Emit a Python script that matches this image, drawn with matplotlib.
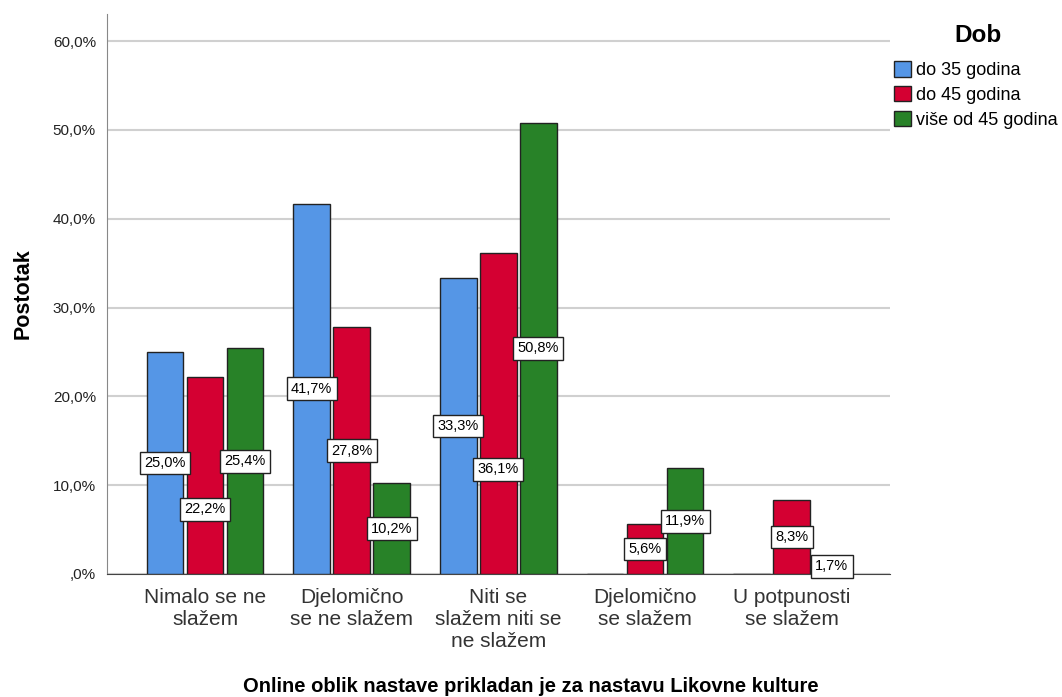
import matplotlib.pyplot as plt
import numpy as np

plt.rcParams['font.family'] = ['Liberation Sans', 'DejaVu Sans']

categories = ['Nimalo se ne\nslažem', 'Djelomično\nse ne slažem', 'Niti se\nslažem niti se\nne slažem',
              'Djelomično\nse slažem', 'U potpunosti\nse slažem']
groups = ['do 35 godina', 'do 45 godina', 'više od 45 godina']
do35 = [25.0, 41.7, 33.3, 0.0, 0.0]
do45 = [22.2, 27.8, 36.1, 5.6, 8.3]
vise45 = [25.4, 10.2, 50.8, 11.9, 1.7]
colors = ['#5596e6', '#d40032', '#288228']
yticks = [0, 10, 20, 30, 40, 50, 60]

# labels SPSS pushed down to avoid overlapping neighbours: (series, category) -> y
label_shift = {(1, 0): 7.3, (1, 2): 11.8}

fig = plt.figure(figsize=(10.62, 6.97), dpi=100)
ax = fig.add_axes([0.1008, 0.1765, 0.7372, 0.8035])

x = np.arange(len(categories))
width = 0.25
offset = 0.273
for i, (vals, col, name) in enumerate(zip([do35, do45, vise45], colors, groups)):
    xs = x + (i - 1) * offset
    ax.bar(xs, vals, width, color=col, edgecolor='#222222', linewidth=1, label=name, zorder=3)
    for j, (xi, v) in enumerate(zip(xs, vals)):
        if v > 0:
            ly = label_shift.get((i, j), v / 2)
            ax.text(xi, ly, f'{v:.1f}%'.replace('.', ','), ha='center', va='center', fontsize=10.5,
                    zorder=5, bbox=dict(boxstyle='square,pad=0.3', fc='white', ec='#222222', lw=1))

ax.set_xlim(-0.668, 4.67)
ax.set_ylim(0, 63.05)
ax.set_yticks(yticks)
ax.set_yticklabels([f'{t:.1f}%'.replace('.', ',') if t else ',0%' for t in yticks], fontsize=11, color='#222222')
ax.set_xticks(x)
ax.set_xticklabels(categories, fontsize=15, color='#333333', linespacing=1.22)
ax.tick_params(axis='y', length=0, pad=8)
ax.tick_params(axis='x', length=0, pad=10)
ax.yaxis.grid(True, color='#d0d0d0', linewidth=1.5, zorder=0)
for s in ['top', 'right']:
    ax.spines[s].set_visible(False)
ax.spines['left'].set_color('#888888')
ax.spines['bottom'].set_color('#444444')
ax.set_ylabel('Postotak', fontsize=15.5, fontweight='bold')
ax.yaxis.set_label_coords(-0.094, 0.5)
fig.text(0.5, 1 - 686 / 697, 'Online oblik nastave prikladan je za nastavu Likovne kulture', ha='center',
         va='center', fontsize=14.5, fontweight='bold')

fig.text(978 / 1062, 1 - 35 / 697, 'Dob', ha='center', va='center', fontsize=17.5, fontweight='bold')
leg = fig.legend(loc='upper left', bbox_to_anchor=(894 / 1062, 1 - 61 / 697), frameon=False,
                 fontsize=13, handlelength=0.95, handleheight=0.95, handletextpad=0.25,
                 labelspacing=0.38, borderaxespad=0, borderpad=0)
for h in leg.legend_handles:
    h.set_edgecolor('#222222')

fig.savefig('out.png', dpi=100)
